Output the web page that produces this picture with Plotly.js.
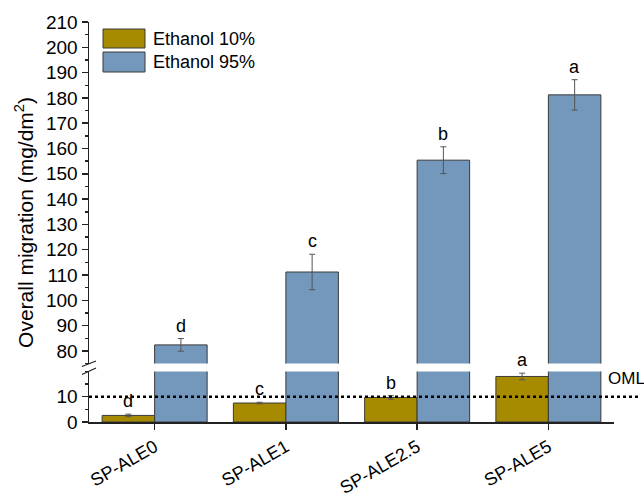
<!DOCTYPE html>
<html>
<head>
<meta charset="utf-8">
<script src="https://cdn.plot.ly/plotly-3.0.1.min.js"></script>
<style>html,body{margin:0;padding:0;background:#fff;}#chart{width:644px;height:501px;}</style>
</head>
<body>
<div id="chart"></div>
<script>
const categories = ["SP-ALE0", "SP-ALE1", "SP-ALE2.5", "SP-ALE5"];
const seriesNames = ["Ethanol 10%", "Ethanol 95%"];
const eth10 = [2.6, 7.5, 9.7, 18.0];
const eth10Err = [0.5, 0.3, 0.7, 1.3];
const eth95 = [82.4, 111.2, 155.4, 181.2];
const eth95Err = [2.5, 7.0, 5.3, 6.0];
const letters10 = ["d", "c", "b", "a"];
const letters95 = ["d", "c", "b", "a"];
const omlValue = 10;
const omlLabel = "OML";
const yTitle = "Overall migration (mg/dm<sup>2</sup>)";

const c10 = "#A68A00", c95 = "#7497BC", edge = "#3a3a3a", errC = "#555555";
const fontFam = "Liberation Sans, Arial, sans-serif";

function barTrace(name, y, err, color, yaxis) {
  return {
    type: "bar", x: categories, y: y, name: name, yaxis: yaxis, showlegend: false,
    marker: {color: color, line: {color: edge, width: 1}},
    error_y: {type: "data", array: err, visible: true, color: errC, thickness: 1, width: 3},
    hoverinfo: "y"
  };
}

const data = [
  barTrace(seriesNames[0], eth10, eth10Err, c10, "y"),
  barTrace(seriesNames[1], eth95, eth95Err, c95, "y"),
  barTrace(seriesNames[0], eth10, eth10Err, c10, "y2"),
  barTrace(seriesNames[1], eth95, eth95Err, c95, "y2")
];

const lowMax = 20, upMin = 75, upMax = 210;
const annotations = [];
function addLetter(i, val, err, txt, dx) {
  const top = val + err;
  annotations.push({
    x: i + dx, y: top, xref: "x", yref: top > lowMax ? "y2" : "y",
    text: txt, showarrow: false, yanchor: "bottom", yshift: 1,
    font: {family: fontFam, size: 18, color: "#000"}
  });
}
categories.forEach((c, i) => {
  addLetter(i, eth10[i], eth10Err[i], letters10[i], -0.2);
  addLetter(i, eth95[i], eth95Err[i], letters95[i], 0.2);
});
annotations.push({
  x: 0.985, xref: "paper", y: omlValue, yref: "y", text: omlLabel, showarrow: false,
  xanchor: "left", yanchor: "bottom", yshift: 7,
  font: {family: fontFam, size: 17, color: "#000"}
});
// y-axis title, centred on the whole (broken) axis
annotations.push({
  x: -0.124, xref: "paper", y: 0.5, yref: "paper", text: yTitle, showarrow: false,
  textangle: -90, xanchor: "center", yanchor: "middle",
  font: {family: fontFam, size: 21, color: "#000"}
});
// custom legend text
seriesNames.forEach((n, k) => {
  annotations.push({
    x: 0.118, xref: "paper", y: 1 - (17 + k * 23) / 400, yref: "paper",
    text: n, showarrow: false, xanchor: "left", yanchor: "middle",
    font: {family: fontFam, size: 18, color: "#000"}
  });
});

const shapes = [
  {type: "line", xref: "paper", yref: "y", x0: 0, x1: 1.051, y0: omlValue, y1: omlValue,
   line: {color: "#000", width: 2.5, dash: "dot"}},
  // legend swatches
  {type: "rect", xref: "paper", yref: "paper", x0: 14/525, x1: 56/525, y0: 1 - 26/400, y1: 1 - 7/400,
   fillcolor: c10, line: {color: edge, width: 1}},
  {type: "rect", xref: "paper", yref: "paper", x0: 14/525, x1: 56/525, y0: 1 - 50/400, y1: 1 - 30/400,
   fillcolor: c95, line: {color: edge, width: 1}},
  // axis break marks
  {type: "line", xref: "paper", yref: "paper", x0: -7/525, x1: 7/525, y0: 55.5/400, y1: 61/400,
   line: {color: "#222", width: 1.2}},
  {type: "line", xref: "paper", yref: "paper", x0: -7/525, x1: 7/525, y0: 47.5/400, y1: 54/400,
   line: {color: "#222", width: 1.2}}
];

const axisCommon = {
  showgrid: false, zeroline: false, showline: true, linecolor: "#222", linewidth: 1.5,
  ticks: "outside", ticklen: 6, tickwidth: 1.5, tickcolor: "#222",
  tickfont: {family: fontFam, size: 19, color: "#000"},
  minor: {ticks: "outside", ticklen: 3, tickwidth: 1.5, tickcolor: "#222", dtick: 5},
  fixedrange: true
};

const layout = {
  width: 644, height: 501,
  margin: {l: 89, r: 30, t: 22, b: 79},
  paper_bgcolor: "#fff", plot_bgcolor: "#fff",
  barmode: "group", bargap: 0.2, bargroupgap: 0,
  showlegend: false,
  xaxis: {
    type: "category", range: [-0.5, 3.5], showline: true, linecolor: "#222", linewidth: 1.5,
    ticks: "outside", ticklen: 6, tickwidth: 1.5, tickcolor: "#222", tickangle: -30,
    tickfont: {family: fontFam, size: 18, color: "#000"}, showgrid: false,
    minor: {ticks: "outside", ticklen: 3, tickwidth: 1.5, tickcolor: "#222"},
    anchor: "y", fixedrange: true
  },
  yaxis: Object.assign({}, axisCommon, {
    domain: [0, 0.1265], range: [0, lowMax], tickvals: [0, 10], ticktext: ["0", "10"]
  }),
  yaxis2: Object.assign({}, axisCommon, {
    domain: [0.146, 1], range: [upMin, upMax],
    tickvals: [80, 90, 100, 110, 120, 130, 140, 150, 160, 170, 180, 190, 200, 210],
    anchor: "x"
  }),
  annotations: annotations,
  shapes: shapes
};

Plotly.newPlot("chart", data, layout, {displayModeBar: false, staticPlot: true});
</script>
</body>
</html>
